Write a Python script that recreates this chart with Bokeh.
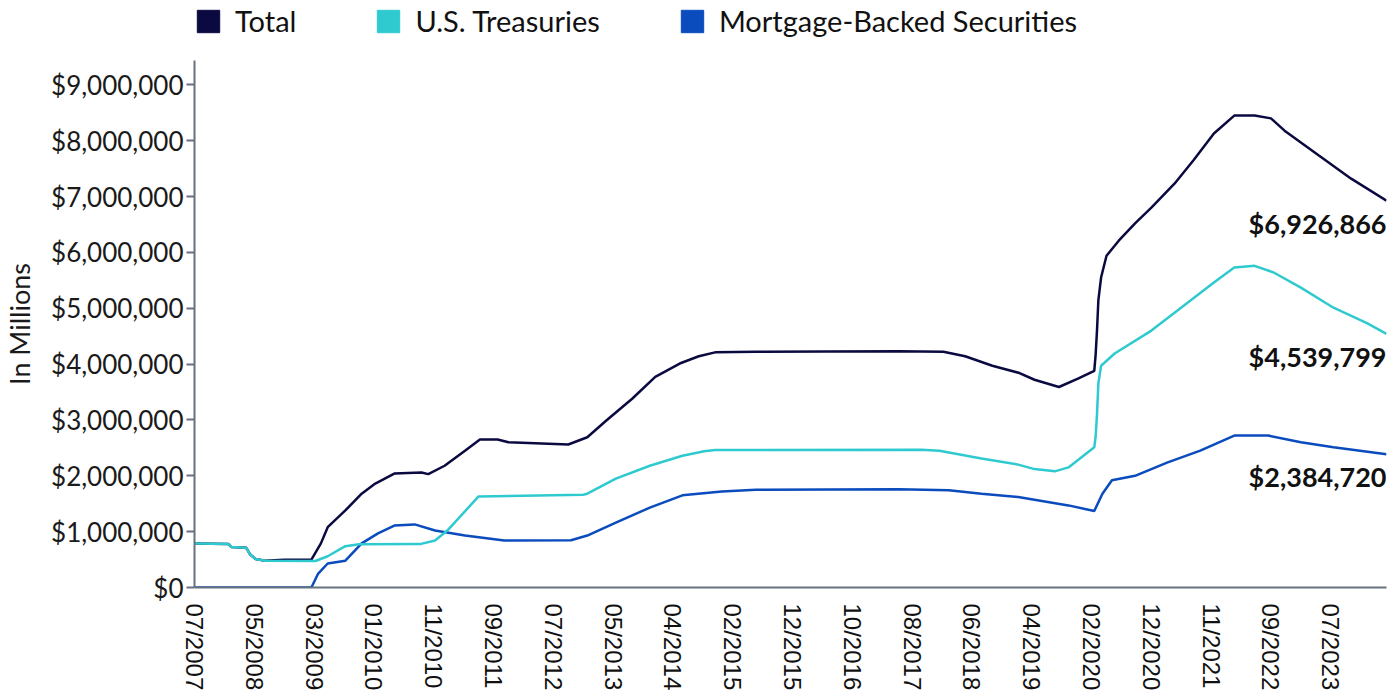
import pandas as pd
from bokeh.plotting import figure
from bokeh.layouts import column
from bokeh.models import (ColumnDataSource, FixedTicker, DatetimeTickFormatter,
                          NumeralTickFormatter, Legend, LegendItem, Range1d)
from bokeh.core.properties import value
from bokeh.embed import file_html
from bokeh.resources import INLINE

# ---------------- data (in $ millions) ----------------
total_dates = ["2007-07-04", "2007-12-26", "2008-01-09", "2008-03-26", "2008-04-16", "2008-05-14",
               "2008-07-02", "2008-10-08", "2009-02-25", "2009-04-15", "2009-05-20", "2009-08-19",
               "2009-11-11", "2010-01-20", "2010-04-28", "2010-09-15", "2010-10-20", "2011-01-12",
               "2011-04-27", "2011-07-13", "2011-10-12", "2011-12-07", "2012-10-10", "2013-01-16",
               "2013-04-24", "2013-09-04", "2014-01-01", "2014-05-07", "2014-08-13", "2014-11-05",
               "2015-06-03", "2016-06-01", "2017-06-07", "2018-01-24", "2018-05-16", "2018-10-03",
               "2019-02-20", "2019-05-08", "2019-09-11", "2019-12-18", "2020-03-11", "2020-03-18",
               "2020-03-25", "2020-04-01", "2020-04-15", "2020-05-13", "2020-07-15", "2020-10-07",
               "2020-12-30", "2021-04-28", "2021-08-04", "2021-11-17", "2022-03-02", "2022-06-15",
               "2022-09-07", "2022-11-16", "2023-05-10", "2023-10-25", "2024-04-24"]
total_vals = [790000, 780000, 725000, 712000, 590000, 510000,
              478000, 495000, 500000, 790000, 1080000, 1380000,
              1680000, 1860000, 2040000, 2060000, 2030000, 2180000,
              2450000, 2650000, 2650000, 2600000, 2560000, 2690000,
              2990000, 3380000, 3770000, 4010000, 4140000, 4210000,
              4220000, 4225000, 4230000, 4220000, 4140000, 3970000,
              3840000, 3720000, 3590000, 3740000, 3880000, 4170000,
              4600000, 5140000, 5550000, 5940000, 6210000, 6520000,
              6800000, 7230000, 7650000, 8130000, 8450000, 8450000,
              8400000, 8180000, 7740000, 7320000, 6926866]

treas_dates = ["2007-07-04", "2007-12-26", "2008-01-09", "2008-03-26", "2008-04-16", "2008-05-14",
               "2008-07-02", "2009-03-18", "2009-05-20", "2009-08-19", "2009-10-28", "2010-09-08",
               "2010-11-24", "2011-01-26", "2011-07-06", "2012-12-26", "2013-01-16", "2013-06-12",
               "2013-12-04", "2014-05-21", "2014-09-10", "2014-11-05", "2017-10-04", "2018-01-03",
               "2018-08-08", "2019-02-13", "2019-05-08", "2019-08-21", "2019-10-30", "2020-03-11",
               "2020-03-18", "2020-03-25", "2020-04-01", "2020-04-15", "2020-06-24", "2020-12-30",
               "2021-06-16", "2021-11-17", "2022-03-02", "2022-06-15", "2022-09-21", "2023-02-08",
               "2023-07-26", "2024-01-17", "2024-04-24"]
treas_vals = [790000, 780000, 725000, 712000, 590000, 510000,
              478000, 475000, 560000, 740000, 776000, 777000,
              840000, 1020000, 1630000, 1660000, 1680000, 1950000,
              2180000, 2360000, 2440000, 2460000, 2465000, 2450000,
              2310000, 2200000, 2120000, 2080000, 2150000, 2510000,
              2700000, 3100000, 3650000, 3970000, 4190000, 4600000,
              5050000, 5460000, 5730000, 5760000, 5640000, 5370000,
              5010000, 4730000, 4539799]

mbs_dates = ["2007-07-04", "2009-02-25", "2009-04-01", "2009-05-20", "2009-08-19", "2009-11-11",
             "2010-02-03", "2010-04-28", "2010-08-11", "2010-11-24", "2011-04-27", "2011-11-16",
             "2012-10-24", "2013-01-16", "2013-06-12", "2013-12-04", "2014-05-21", "2014-12-10",
             "2015-06-03", "2017-06-07", "2018-02-21", "2018-08-08", "2019-02-13", "2019-10-30",
             "2020-03-11", "2020-04-22", "2020-06-10", "2020-10-07", "2021-03-24", "2021-09-08",
             "2022-03-02", "2022-08-24", "2023-02-08", "2023-07-26", "2024-04-24"]
mbs_vals = [0, 0, 250000, 430000, 480000, 790000,
            970000, 1110000, 1130000, 1020000, 930000, 840000,
            845000, 930000, 1160000, 1430000, 1650000, 1720000,
            1750000, 1760000, 1740000, 1680000, 1620000, 1470000,
            1370000, 1680000, 1920000, 2000000, 2240000, 2450000,
            2720000, 2720000, 2600000, 2510000, 2384720]

series_names = ["Total", "U.S. Treasuries", "Mortgage-Backed Securities"]
series_colors = ["#0a0a40", "#2ecad0", "#0a4bbd"]

x_tick_dates = ["2007-07-04", "2008-05-07", "2009-03-11", "2010-01-13", "2010-11-17",
                "2011-09-21", "2012-07-25", "2013-05-29", "2014-04-02", "2015-02-04",
                "2015-12-09", "2016-10-12", "2017-08-16", "2018-06-20", "2019-04-24",
                "2020-02-26", "2020-12-30", "2021-11-03", "2022-09-07", "2023-07-12"]
y_ticks = [0, 1000000, 2000000, 3000000, 4000000, 5000000, 6000000, 7000000, 8000000, 9000000]

# ---------------- legend strip (top) ----------------
leg_fig = figure(width=1388, height=60, output_backend="svg", toolbar_location=None,
                 x_range=Range1d(0, 1), y_range=Range1d(0, 1),
                 x_axis_location=None, y_axis_location=None,
                 min_border_left=192, min_border_right=0, min_border_top=3, min_border_bottom=0)
leg_fig.outline_line_color = None
leg_fig.grid.visible = False
swatches = []
for c in series_colors:
    # swatch glyphs sit outside the visible range; they only feed the legend
    swatches.append(leg_fig.quad(left=[5], right=[6], top=[6], bottom=[5],
                                 fill_color=c, line_color=c))
legend = Legend(items=[LegendItem(label=n, renderers=[r]) for n, r in zip(series_names, swatches)],
                orientation="horizontal", location="top_left",
                glyph_width=28, glyph_height=28, label_standoff=13, spacing=78,
                padding=0, margin=0, border_line_color=None, background_fill_alpha=0,
                label_text_font="Lato", label_text_font_size="29px", label_text_color="#111111")
leg_fig.add_layout(legend)

# ---------------- main chart ----------------
x_start = pd.Timestamp(total_dates[0])
x_end = pd.Timestamp(total_dates[-1])

p = figure(width=1388, height=638, x_axis_type="datetime", output_backend="svg",
           toolbar_location=None, x_range=Range1d(x_start, x_end),
           y_range=Range1d(0, 9436000),
           min_border_left=191, min_border_right=2, min_border_top=0, min_border_bottom=111)
p.outline_line_color = None
p.grid.visible = False
p.background_fill_color = "white"

axis_col = "#66727e"

# x axis
p.xaxis.ticker = FixedTicker(ticks=[pd.Timestamp(d).value // 10**6 for d in x_tick_dates])
fmt = "%m/%Y"
p.xaxis.formatter = DatetimeTickFormatter(milliseconds=fmt, seconds=fmt, minsec=fmt, minutes=fmt,
                                          hourmin=fmt, hours=fmt, days=fmt, months=fmt, years=fmt)
p.xaxis.major_label_orientation = "vertical"
p.xaxis.major_tick_line_color = None
p.xaxis.minor_tick_line_color = None
p.xaxis.major_label_standoff = 10
p.xaxis.axis_line_color = axis_col
p.xaxis.axis_line_width = 2
p.xaxis.major_label_text_font = "Liberation Sans"
p.xaxis.major_label_text_font_size = "24px"
p.xaxis.major_label_text_color = "#111111"

# y axis
p.yaxis.ticker = FixedTicker(ticks=y_ticks)
p.yaxis.formatter = NumeralTickFormatter(format="$0,0")
p.yaxis.major_tick_out = 8
p.yaxis.major_tick_in = 0
p.yaxis.major_tick_line_color = axis_col
p.yaxis.major_tick_line_width = 2
p.yaxis.minor_tick_line_color = None
p.yaxis.axis_line_color = axis_col
p.yaxis.axis_line_width = 2
p.yaxis.major_label_standoff = 3
p.yaxis.major_label_text_font = "Lato"
p.yaxis.major_label_text_font_size = "26px"
p.yaxis.major_label_text_color = "#1a1a1a"
p.yaxis.axis_label = "In Millions"
p.yaxis.axis_label_text_font = "Lato"
p.yaxis.axis_label_text_font_style = "normal"
p.yaxis.axis_label_text_font_size = "27px"
p.yaxis.axis_label_text_color = "#1a1a1a"
p.yaxis.axis_label_standoff = 12

# lines
src_total = ColumnDataSource(dict(x=pd.to_datetime(total_dates), y=total_vals))
src_treas = ColumnDataSource(dict(x=pd.to_datetime(treas_dates), y=treas_vals))
src_mbs = ColumnDataSource(dict(x=pd.to_datetime(mbs_dates), y=mbs_vals))

p.line("x", "y", source=src_total, color=series_colors[0], line_width=2.5)
p.line("x", "y", source=src_mbs, color=series_colors[2], line_width=2.5)
p.line("x", "y", source=src_treas, color=series_colors[1], line_width=2.5)

# end labels
last_vals = [total_vals[-1], treas_vals[-1], mbs_vals[-1]]
lab_src = ColumnDataSource(dict(x=[x_end] * 3, y=last_vals,
                                text=["${:,}".format(v) for v in last_vals]))
p.text("x", "y", text="text", source=lab_src, text_align="right", text_baseline="top",
       y_offset=6, text_font=value("Lato"), text_font_style="bold",
       text_font_size="27px", text_color="#111111")

layout = column(leg_fig, p, spacing=0)
open("out.html", "w").write(file_html(layout, INLINE))
